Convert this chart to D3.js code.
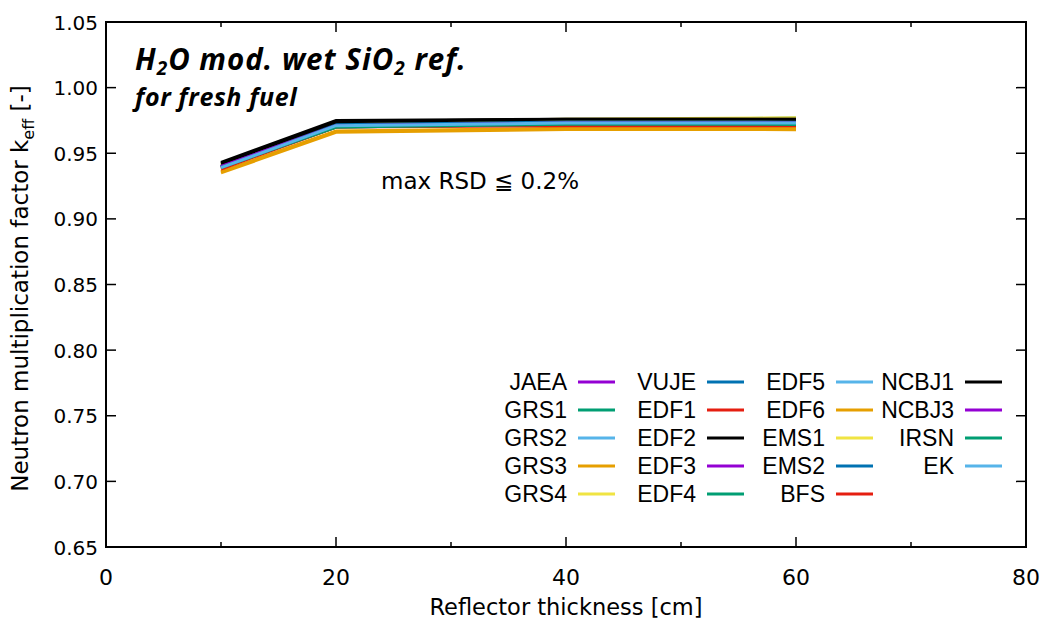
<!DOCTYPE html>
<html>
<head>
<meta charset="utf-8">
<script src="https://cdn.jsdelivr.net/npm/d3@7"></script>
<style>
  body { margin: 0; background: #fff; }
  svg text { font-family: "DejaVu Sans", Verdana, sans-serif; }
</style>
</head>
<body>
<div id="chart"></div>
<script>
const width = 1050, height = 627;
const margin = { top: 22, right: 24, bottom: 80, left: 106 };

// reflector thickness points [cm]
const thickness = [10, 20, 40, 60];

// series names, in plotting order
const names = ["JAEA", "GRS1", "GRS2", "GRS3", "GRS4",
               "VUJE", "EDF1", "EDF2", "EDF3", "EDF4",
               "EDF5", "EDF6", "EMS1", "EMS2", "BFS",
               "NCBJ1", "NCBJ3", "IRSN", "EK"];

// gnuplot default line colours, cycling
const palette = ["#9400d3", "#009e73", "#56b4e9", "#e69f00", "#f0e442", "#0072b2", "#e51e10", "#000000"];

// keff values at each thickness
const JAEA  = [0.940, 0.972, 0.974, 0.974];
const GRS1  = [0.939, 0.970, 0.972, 0.972];
const GRS2  = [0.939, 0.972, 0.974, 0.977];
const GRS3  = [0.935, 0.966, 0.968, 0.968];
const GRS4  = [0.941, 0.973, 0.976, 0.977];
const VUJE  = [0.940, 0.972, 0.974, 0.974];
const EDF1  = [0.939, 0.971, 0.972, 0.971];
const EDF2  = [0.943, 0.975, 0.976, 0.976];
const EDF3  = [0.940, 0.972, 0.973, 0.973];
const EDF4  = [0.939, 0.970, 0.972, 0.972];
const EDF5  = [0.940, 0.972, 0.974, 0.974];
const EDF6  = [0.936, 0.967, 0.969, 0.969];
const EMS1  = [0.941, 0.973, 0.975, 0.976];
const EMS2  = [0.940, 0.972, 0.974, 0.974];
const BFS   = [0.938, 0.970, 0.971, 0.971];
const NCBJ1 = [0.942, 0.974, 0.976, 0.976];
const NCBJ3 = [0.940, 0.971, 0.973, 0.973];
const IRSN  = [0.939, 0.970, 0.972, 0.972];
const EK    = [0.939, 0.971, 0.973, 0.973];

const values = [JAEA, GRS1, GRS2, GRS3, GRS4, VUJE, EDF1, EDF2, EDF3, EDF4,
                EDF5, EDF6, EMS1, EMS2, BFS, NCBJ1, NCBJ3, IRSN, EK];

const xTicks = [0, 20, 40, 60, 80];
const yTicks = [0.65, 0.70, 0.75, 0.80, 0.85, 0.90, 0.95, 1.00, 1.05];

const svg = d3.select("#chart").append("svg")
    .attr("width", width)
    .attr("height", height);

const x = d3.scaleLinear().domain([0, 80]).range([margin.left, width - margin.right]);
const y = d3.scaleLinear().domain([0.65, 1.05]).range([height - margin.bottom, margin.top]);

const x0 = x.range()[0], x1 = x.range()[1];
const y0 = y.range()[0], y1 = y.range()[1];

// ticks, pointing inward on all four sides
const ticks = svg.append("g").attr("stroke", "#000").attr("stroke-width", 1.5);
d3.range(0, 81, 10).forEach(v => {
    const len = v % 20 === 0 ? 10 : 5;
    ticks.append("line").attr("x1", x(v)).attr("x2", x(v)).attr("y1", y0).attr("y2", y0 - len);
    ticks.append("line").attr("x1", x(v)).attr("x2", x(v)).attr("y1", y1).attr("y2", y1 + len);
});
yTicks.forEach(v => {
    ticks.append("line").attr("x1", x0).attr("x2", x0 + 10).attr("y1", y(v)).attr("y2", y(v));
    ticks.append("line").attr("x1", x1).attr("x2", x1 - 10).attr("y1", y(v)).attr("y2", y(v));
});

// tick labels
svg.append("g").selectAll("text").data(xTicks).join("text")
    .attr("x", d => x(d)).attr("y", y0 + 38)
    .attr("text-anchor", "middle")
    .attr("font-size", 22)
    .text(d => d);

svg.append("g").selectAll("text").data(yTicks).join("text")
    .attr("x", x0 - 8).attr("y", d => y(d) + 7.5)
    .attr("text-anchor", "end")
    .attr("font-size", 20)
    .text(d => d.toFixed(2));

// axis titles
svg.append("text")
    .attr("x", (x0 + x1) / 2).attr("y", height - 12)
    .attr("text-anchor", "middle").attr("font-size", 22.5)
    .text("Reflector thickness [cm]");

const yt = svg.append("text")
    .attr("transform", `translate(28, ${(y0 + y1) / 2 + 4}) rotate(-90)`)
    .attr("text-anchor", "middle").attr("font-size", 23);
yt.append("tspan").text("Neutron multiplication factor k");
yt.append("tspan").attr("font-size", 16).attr("dy", 6).text("eff");
yt.append("tspan").attr("dy", -6).text(" [-]");

// lines
const line = d3.line().x((d, i) => x(thickness[i])).y(d => y(d));
svg.append("g").selectAll("path").data(values).join("path")
    .attr("d", d => line(d))
    .attr("fill", "none")
    .attr("stroke", (d, i) => palette[i % palette.length])
    .attr("stroke-width", 3)
    .attr("stroke-linejoin", "miter");

// frame
svg.append("rect")
    .attr("x", x0).attr("y", y1)
    .attr("width", x1 - x0).attr("height", y0 - y1)
    .attr("fill", "none").attr("stroke", "#000").attr("stroke-width", 2);

// annotations
const title = svg.append("text")
    .attr("x", 135).attr("y", 70)
    .style("font-family", "'Open Sans', sans-serif")
    .style("letter-spacing", "1px")
    .attr("font-weight", "bold").attr("font-style", "italic")
    .attr("font-size", 29.5);
title.append("tspan").text("H");
title.append("tspan").attr("font-size", 19).attr("dy", 5).text("2");
title.append("tspan").attr("dy", -5).text("O mod. wet SiO");
title.append("tspan").attr("font-size", 19).attr("dy", 5).text("2");
title.append("tspan").attr("dy", -5).text(" ref.");

svg.append("text")
    .attr("x", 135).attr("y", 106)
    .style("font-family", "'Open Sans', sans-serif")
    .style("letter-spacing", "0.6px")
    .attr("font-weight", "bold").attr("font-style", "italic")
    .attr("font-size", 25)
    .text("for fresh fuel");

svg.append("text")
    .attr("x", 381).attr("y", 189)
    .attr("font-size", 23)
    .text("max RSD \u2266 0.2%");

// legend, 4 columns of 5 rows, filled column by column
const legend = svg.append("g");
names.forEach((name, i) => {
    const col = Math.floor(i / 5), row = i % 5;
    const tx = 567 + col * 129, ty = 382 + row * 28;
    legend.append("text")
        .attr("x", tx).attr("y", ty + 8)
        .attr("text-anchor", "end")
        .style("font-family", "'Liberation Sans', Arial, sans-serif")
        .attr("font-size", 23)
        .text(name);
    legend.append("line")
        .attr("x1", tx + 11).attr("x2", tx + 48)
        .attr("y1", ty).attr("y2", ty)
        .attr("stroke", palette[i % palette.length])
        .attr("stroke-width", 3);
});
</script>
</body>
</html>
